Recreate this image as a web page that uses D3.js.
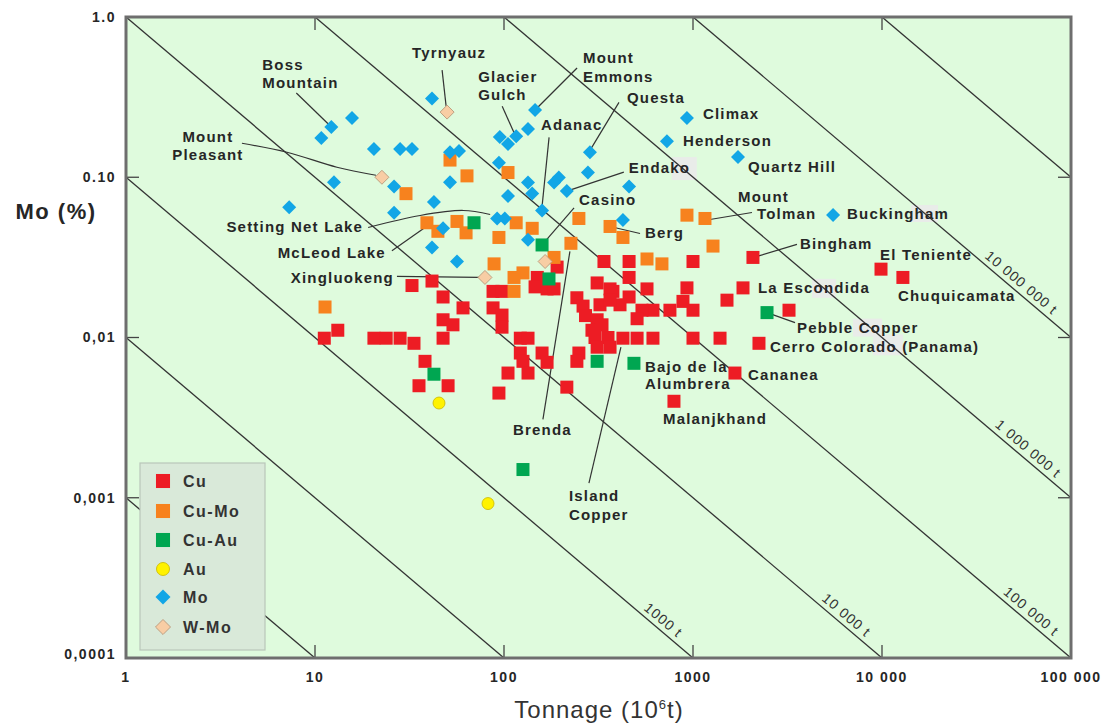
<!DOCTYPE html>
<html>
<head>
<meta charset="utf-8">
<title>Mo grade vs tonnage</title>
<script src="https://cdn.jsdelivr.net/npm/d3@7"></script>
<style>
  body { margin: 0; background: #fff; }
  svg text { font-family: "Liberation Sans", Arial, sans-serif; fill: #262626; }
  .tickLabel { font-size: 14px; font-weight: bold; letter-spacing: 1.5px; }
  .deposit { font-size: 15px; font-weight: bold; letter-spacing: 1.2px; }
  .contour { fill: none; stroke: #333; stroke-width: 1.3; }
  .contourLabel { font-size: 14px; letter-spacing: 1px; fill: #333; }
  .leader { fill: none; stroke: #333; stroke-width: 1.2; }
  .legendText { font-size: 16px; font-weight: bold; letter-spacing: 1.5px; fill: #333; }
</style>
</head>
<body>
<svg id="chart" width="1102" height="723"></svg>
<script>
// [tonnage (10^6 t), Mo %]
var cu = [
  [32.6,0.0211],[41.6,0.0225],[47.6,0.0179],[60.7,0.0153],[47.6,0.0129],[53.7,0.012],[13.2,0.0111],[11.2,0.0099],
  [20.5,0.0099],[23.8,0.0099],[28.2,0.0099],[33.4,0.0092],[47.6,0.0099],[38.2,0.0071],[35.5,0.005],[50.6,0.005],
  [87.5,0.0194],[97.6,0.0194],[87.5,0.0153],[97.6,0.0138],[97.6,0.0116],
  [191,0.0275],[150,0.0237],[146,0.0207],[169,0.0201],[184,0.0201],
  [338,0.0298],[459,0.0298],[1000,0.0298],[459,0.0237],[311,0.0219],[364,0.0201],[377,0.0194],[459,0.0179],
  [571,0.0201],[929,0.0204],[885,0.0168],[1000,0.0148],[755,0.0148],[614,0.0148],[537,0.0148],[506,0.0131],
  [243,0.0177],[262,0.0157],[270,0.0137],[411,0.016],[322,0.016],[364,0.0171],[311,0.0129],[292,0.0111],
  [330,0.012],[303,0.01],[355,0.01],[426,0.0099],[311,0.0087],[364,0.0087],[506,0.0099],[614,0.0099],
  [1000,0.0099],[1390,0.0099],[1839,0.0204],[1513,0.0171],[3221,0.0148],[2234,0.0092],[1667,0.006],
  [249,0.008],[243,0.0071],[793,0.004],
  [122,0.0099],[134,0.0099],[122,0.008],[126,0.0071],[134,0.006],[159,0.008],[169,0.0070],[105,0.006],
  [94,0.0045],[215,0.0049],
  [2076,0.0316],[9880,0.0267],[12900,0.0237]
];
var cuMo = [
  [51.8,0.128],[63.7,0.102],[30.3,0.079],[39.1,0.052],[44.7,0.046],[56.4,0.053],[63,0.045],[105,0.107],
  [11.3,0.0155],[249,0.0553],[929,0.058],[1157,0.0553],[364,0.0493],[426,0.0421],[116,0.052],[141,0.048],
  [94,0.0421],[226,0.0387],[1276,0.0372],[184,0.0316],[88.6,0.0288],[126,0.0253],[113,0.0237],[113,0.0194],
  [571,0.0309],[685,0.0288]
];
var cuAu = [
  [69.4,0.052],[159,0.0378],[173,0.0232],[42.6,0.0059],[311,0.0071],[487,0.0069],[2464,0.0143],[126,0.0015]
];
var au = [[45.3,0.0039],[82.3,0.00092]];
var mo = [
  [41.6,0.31],[15.7,0.234],[12.2,0.206],[10.8,0.176],[20.5,0.15],[28.2,0.15],[32.6,0.15],[51.8,0.143],
  [57.8,0.146],[12.6,0.093],[26.2,0.0875],[51.8,0.093],[42.6,0.07],[7.3,0.065],[26.2,0.06],[47.6,0.048],
  [41.6,0.0364],[56.4,0.0298],[146,0.263],[134,0.2],[116,0.18],[95,0.178],[105,0.161],[929,0.234],
  [728,0.168],[1730,0.134],[285,0.143],[94,0.123],[278,0.107],[195,0.0995],[184,0.0927],[134,0.0927],
  [141,0.0792],[215,0.082],[459,0.0875],[105,0.0764],[159,0.0621],[5508,0.0581],[426,0.0541],[92,0.0553],
  [101,0.0553],[134,0.0408]
];
var wMo = [[50,0.255],[22.6,0.1],[79.3,0.0237],[165,0.0298]];

var series = [
  {name: "Cu", data: cu, shape: "square", fill: "#ED1C24", stroke: "none"},
  {name: "Cu-Mo", data: cuMo, shape: "square", fill: "#F7821E", stroke: "none"},
  {name: "Cu-Au", data: cuAu, shape: "square", fill: "#00A651", stroke: "none"},
  {name: "Au", data: au, shape: "circle", fill: "#FFF200", stroke: "#c9b800"},
  {name: "Mo", data: mo, shape: "diamond", fill: "#12A6E6", stroke: "none"},
  {name: "W-Mo", data: wMo, shape: "diamond", fill: "#F8CDA4", stroke: "#b8987a"}
];

var xTicks = [1, 10, 100, 1000, 10000, 100000];
var xTickText = ["1", "10", "100", "1000", "10 000", "100 000"];
var yTicks = [1, 0.1, 0.01, 0.001, 0.0001];
var yTickText = ["1.0", "0.10", "0,01", "0,001", "0,0001"];

// contained Mo lines: tonnage * grade = constant
var contourProducts = [0.001, 0.01, 0.1, 1, 10, 100, 1000, 10000];
var contourLabels = [
  {p: 0.1, at: 645, text: "1000 t"},
  {p: 1, at: 6000, text: "10 000 t"},
  {p: 10, at: 57000, text: "100 000 t"},
  {p: 100, at: 55000, text: "1 000 000 t"},
  {p: 1000, at: 50600, text: "10 000 000 t"}
];

// deposit names: [text, dx, dy] relative to the point; shade = grey patch behind part of a name
var notes = [
  {at: [12.2,0.206], lines: [["Boss",-69,-62],["Mountain",-69,-44]], lead: [[-35,-34],[-2,-2]]},
  {at: [50,0.255], anchor: "middle", lines: [["Tyrnyauz",2,-59]], lead: [[-5,-42],[-1,-6]]},
  {at: [22.6,0.1], anchor: "middle", lines: [["Mount",-174,-41],["Pleasant",-174,-23]], lead: [[-140,-34],[-95,-25],[-45,-10],[-6,-2]], curve: true},
  {at: [116,0.18], lines: [["Glacier",-38,-60],["Gulch",-38,-42]], lead: [[-14,-30],[-1,-1]]},
  {at: [146,0.263], lines: [["Mount",48,-52],["Emmons",48,-33]], lead: [[42,-42],[0,0]]},
  {at: [285,0.143], lines: [["Questa",37,-55]], lead: [[29,-50],[0,-2]]},
  {at: [929,0.234], lines: [["Climax",16,-4]]},
  {at: [728,0.168], lines: [["Henderson",16,0]]},
  {at: [1730,0.134], lines: [["Quartz Hill",10,10]]},
  {at: [159,0.0621], lines: [["Adanac",-1,-86]], lead: [[7,-73],[0,-4]]},
  {at: [215,0.082], lines: [["Endako",62,-23]], lead: [[57,-19],[0,0]], shade: [105,-34,25,23]},
  {at: [159,0.0378], lines: [["Casino",37,-45]], lead: [[32,-37],[0,0]]},
  {at: [1157,0.0553], lines: [["Mount",33,-22],["Tolman",52,-5]], lead: [[47,-6],[5,1]]},
  {at: [5508,0.0581], lines: [["Buckingham",14,-1]], shade: [78,-10,27,17]},
  {at: [364,0.0493], lines: [["Berg",35,6]], lead: [[30,7],[0,0]]},
  {at: [2076,0.0316], lines: [["Bingham",47,-14]], lead: [[44,-13],[4,-1]]},
  {at: [9880,0.0267], lines: [["El Teniente",-1,-14]]},
  {at: [1839,0.0204], lines: [["La Escondida",15,0]], shade: [69,-9,24,19]},
  {at: [12900,0.0237], lines: [["Chuquicamata",-5,18]]},
  {at: [2464,0.0143], lines: [["Pebble Copper",30,15]], lead: [[28,10],[0,0]], shade: [86,6,29,18]},
  {at: [2234,0.0092], lines: [["Cerro Colorado (Panama)",11,3]], shade: [114,-9,30,21]},
  {at: [1667,0.006], lines: [["Cananea",13,2]]},
  {at: [487,0.0069], lines: [["Bajo de la",11,3],["Alumbrera",11,20]]},
  {at: [793,0.004], lines: [["Malanjkhand",-11,17]]},
  {at: [226,0.0387], lines: [["Brenda",-58,186]], lead: [[-28,176],[-1,8]]},
  {at: [377,0.0087], lines: [["Island",-44,149],["Copper",-44,168]], lead: [[-24,136],[8,0]]},
  {at: [92,0.0553], anchor: "end", lines: [["Setting Net Lake",-134,8]], lead: [[-129,9],[-77,-3],[-34,-8],[-7,-4]], curve: true},
  {at: [39.1,0.052], anchor: "end", lines: [["McLeod Lake",-41,30]], lead: [[-35,28],[2,2]]},
  {at: [79.3,0.0237], anchor: "end", lines: [["Xingluokeng",-91,0]], lead: [[-88,-1],[-6,0]]}
];

var frame = {left: 126, right: 1071, top: 17, bottom: 658};

var x = d3.scaleLog().domain([1, 100000]).range([frame.left, frame.right]);
var y = d3.scaleLog().domain([0.0001, 1]).range([frame.bottom, frame.top]);

var svg = d3.select("#chart");

svg.append("rect")
  .attr("x", frame.left).attr("y", frame.top)
  .attr("width", frame.right - frame.left).attr("height", frame.bottom - frame.top)
  .attr("fill", "#DFFBDD");

var plot = svg.append("g");

// grey patches left over in the source picture
notes.forEach(function(n) {
  if (!n.shade) return;
  plot.append("rect")
    .attr("x", x(n.at[0]) + n.shade[0]).attr("y", y(n.at[1]) + n.shade[1])
    .attr("width", n.shade[2]).attr("height", n.shade[3])
    .attr("fill", "#E9ECE9");
});

// contour lines
contourProducts.forEach(function(p) {
  var t1 = Math.max(1, p / 1), t2 = Math.min(100000, p / 0.0001);
  plot.append("line").attr("class", "contour")
    .attr("x1", x(t1)).attr("y1", y(p / t1))
    .attr("x2", x(t2)).attr("y2", y(p / t2));
});

contourLabels.forEach(function(c) {
  var ang = Math.atan2(y(c.p / 10) - y(c.p), x(10) - x(1)) * 180 / Math.PI;
  plot.append("text").attr("class", "contourLabel")
    .attr("transform", "translate(" + x(c.at) + "," + y(c.p / c.at) + ") rotate(" + ang + ")")
    .attr("text-anchor", "middle")
    .attr("dy", -5)
    .text(c.text);
});

// leader lines
var lineGen = d3.line();
var curveGen = d3.line().curve(d3.curveCatmullRom);
notes.forEach(function(n) {
  if (!n.lead) return;
  var px = x(n.at[0]), py = y(n.at[1]);
  var pts = n.lead.map(function(d) { return [px + d[0], py + d[1]]; });
  plot.append("path").attr("class", "leader")
    .attr("d", (n.curve ? curveGen : lineGen)(pts));
});

// points
function drawSymbol(g, s, cx, cy, k) {
  var h = 6.5 * k;
  if (s.shape === "square") {
    g.append("rect").attr("x", cx - h).attr("y", cy - h).attr("width", 2 * h).attr("height", 2 * h)
      .attr("fill", s.fill);
  } else if (s.shape === "circle") {
    g.append("circle").attr("cx", cx).attr("cy", cy).attr("r", h - 0.5)
      .attr("fill", s.fill).attr("stroke", s.stroke).attr("stroke-width", 0.8);
  } else {
    var d = h + 0.5;
    g.append("path").attr("d", "M" + cx + "," + (cy - d) + "L" + (cx + d) + "," + cy + "L" + cx + "," + (cy + d) + "L" + (cx - d) + "," + cy + "Z")
      .attr("fill", s.fill).attr("stroke", s.stroke).attr("stroke-width", 0.9);
  }
}

var pts = plot.append("g");
series.forEach(function(s) {
  s.data.forEach(function(d) {
    drawSymbol(pts, s, x(d[0]), y(d[1]), 1);
  });
});

// deposit labels
notes.forEach(function(n) {
  var px = x(n.at[0]), py = y(n.at[1]);
  n.lines.forEach(function(l) {
    svg.append("text").attr("class", "deposit")
      .attr("x", px + l[1]).attr("y", py + l[2])
      .attr("dy", "0.35em")
      .attr("text-anchor", n.anchor || "start")
      .text(l[0]);
  });
});

// frame and inner ticks
var tickLen = 13;
var ticks = svg.append("g").attr("stroke", "#444").attr("stroke-width", 1.3);
xTicks.slice(1, -1).forEach(function(t) {
  ticks.append("line").attr("x1", x(t)).attr("x2", x(t)).attr("y1", frame.bottom).attr("y2", frame.bottom - tickLen);
  ticks.append("line").attr("x1", x(t)).attr("x2", x(t)).attr("y1", frame.top).attr("y2", frame.top + tickLen);
});
yTicks.slice(1, -1).forEach(function(t) {
  ticks.append("line").attr("x1", frame.left).attr("x2", frame.left + tickLen).attr("y1", y(t)).attr("y2", y(t));
  ticks.append("line").attr("x1", frame.right).attr("x2", frame.right - tickLen).attr("y1", y(t)).attr("y2", y(t));
});

svg.append("rect")
  .attr("x", frame.left).attr("y", frame.top)
  .attr("width", frame.right - frame.left).attr("height", frame.bottom - frame.top)
  .attr("fill", "none").attr("stroke", "#6e6e6e").attr("stroke-width", 3);

// tick labels
xTicks.forEach(function(t, i) {
  svg.append("text").attr("class", "tickLabel")
    .attr("x", x(t)).attr("y", 677).attr("dy", "0.35em")
    .attr("text-anchor", "middle").text(xTickText[i]);
});
yTicks.forEach(function(t, i) {
  svg.append("text").attr("class", "tickLabel")
    .attr("x", 116).attr("y", i === yTicks.length - 1 ? y(t) - 4 : y(t)).attr("dy", "0.35em")
    .attr("text-anchor", "end").text(yTickText[i]);
});

// axis titles
svg.append("text")
  .attr("x", 56).attr("y", 211).attr("dy", "0.35em")
  .attr("text-anchor", "middle")
  .style("font-size", "22px").style("font-weight", "bold").style("letter-spacing", "1.5px")
  .text("Mo (%)");

var xt = svg.append("text")
  .attr("x", 599).attr("y", 710).attr("dy", "0.35em")
  .attr("text-anchor", "middle")
  .style("font-size", "24px").style("letter-spacing", "1px").style("fill", "#333");
xt.append("tspan").text("Tonnage (10");
xt.append("tspan").attr("dy", -9).style("font-size", "13px").text("6");
xt.append("tspan").attr("dy", 9).text("t)");

// legend
var legend = svg.append("g");
legend.append("rect")
  .attr("x", 140).attr("y", 463).attr("width", 125).attr("height", 187)
  .attr("fill", "#D9E9D9").attr("stroke", "#b9c6b9").attr("stroke-width", 1.2);
var legendY = [481, 511, 540, 569, 597, 627];
series.forEach(function(s, i) {
  drawSymbol(legend, s, 163, legendY[i], 1.08);
  legend.append("text").attr("class", "legendText")
    .attr("x", 183).attr("y", legendY[i]).attr("dy", "0.35em")
    .text(s.name);
});
</script>
</body>
</html>
